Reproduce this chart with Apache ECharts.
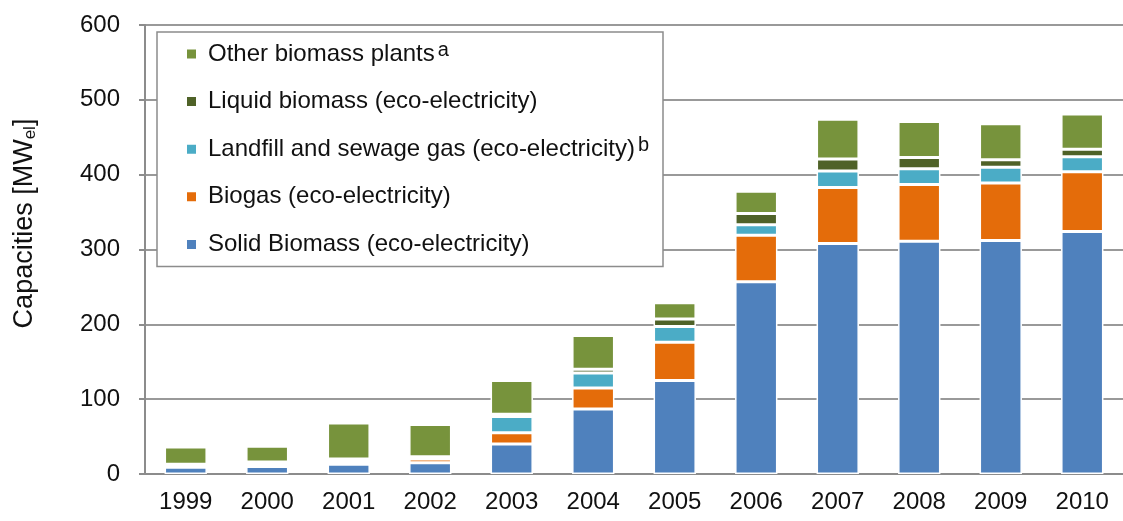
<!DOCTYPE html>
<html>
<head>
<meta charset="utf-8">
<script src="https://cdn.jsdelivr.net/npm/echarts@6/dist/echarts.min.js"></script>
<style>html,body{margin:0;padding:0;background:#fff}#c{width:1123px;height:521px}</style>
</head>
<body>
<div id="c"></div>
<script>
const years = ['1999','2000','2001','2002','2003','2004','2005','2006','2007','2008','2009','2010'];
const solidBiomass = [9, 10, 13, 15, 40, 87, 125, 257, 308, 311, 312, 324];
const biogas       = [2, 3, 4, 5, 15, 28, 51, 62, 75, 76, 77, 80];
const landfillGas  = [2, 3, 2, 2, 22, 20, 21, 14, 22, 21, 21, 20];
const liquidBiomass= [0, 0, 1, 1, 3, 5, 10, 15, 16, 15, 10, 10];
const otherBiomass = [23, 21, 48, 43, 45, 45, 22, 30, 53, 48, 48, 47];
const yTicks = [0, 100, 200, 300, 400, 500, 600];

const FONT = '"Liberation Sans Narrow", "Arial Narrow", "Liberation Sans", Arial, sans-serif';
const names = {
  solid: 'Solid Biomass (eco-electricity)',
  biogas: 'Biogas (eco-electricity)',
  landfill: 'Landfill and sewage gas (eco-electricity)',
  liquid: 'Liquid biomass (eco-electricity)',
  other: 'Other biomass plants'
};
const sups = {};
sups[names.other] = 'a';
sups[names.landfill] = 'b';

function mk(name, data, color) {
  return {
    name, type: 'bar', stack: 'total', data,
    barWidth: '52%',
    itemStyle: { color, borderColor: '#ffffff', borderWidth: 1.5 }
  };
}

const chart = echarts.init(document.getElementById('c'), null, { renderer: 'canvas' });
chart.setOption({
  animation: false,
  backgroundColor: '#fff',
  textStyle: { fontFamily: FONT },
  grid: { left: 145, top: 25, width: 990, bottom: 47, containLabel: false },
  legend: {
    orient: 'vertical',
    left: 157, top: 32,
    data: [names.other, names.liquid, names.landfill, names.biogas, names.solid],
    itemWidth: 11, itemHeight: 11, itemGap: 19.6,
    padding: [8, 14, 8, 28],
    backgroundColor: '#fff',
    borderColor: '#8c8c8c', borderWidth: 1.5,
    icon: 'rect',
    textStyle: {
      fontFamily: FONT, fontSize: 24, color: '#111', lineHeight: 28, padding: [0,0,0,6],
      rich: {
        t: { fontFamily: FONT, fontSize: 24, color: '#111', lineHeight: 28 },
        s: { fontFamily: FONT, fontSize: 20, color: '#111', lineHeight: 12, verticalAlign: 'top', padding: [0,0,0,3] }
      }
    },
    formatter: n => sups[n] ? '{t|' + n + '}{s|' + sups[n] + '}' : '{t|' + n + '}'
  },
  xAxis: {
    type: 'category', data: years,
    axisLine: { lineStyle: { color: '#8c8c8c', width: 2 } },
    axisTick: { show: false },
    axisLabel: { fontFamily: FONT, fontSize: 24, color: '#111', margin: 16 }
  },
  yAxis: {
    type: 'value', min: yTicks[0], max: yTicks[yTicks.length-1], interval: 100,
    name: '{n|Capacities [MW}{b|el}{n|]}',
    nameLocation: 'middle', nameGap: 106, nameRotate: 90,
    nameTextStyle: {
      padding: [0, 0, 0, 52],
      rich: {
        n: { fontFamily: FONT, fontSize: 27, color: '#111' },
        b: { fontFamily: FONT, fontSize: 17, color: '#111', padding: [12,0,0,0] }
      }
    },
    axisLine: { show: true, lineStyle: { color: '#8c8c8c', width: 2 } },
    axisTick: { show: true, inside: false, length: 6, lineStyle: { color: '#8c8c8c', width: 2 } },
    splitLine: { lineStyle: { color: '#999', width: 2 } },
    axisLabel: { fontFamily: FONT, fontSize: 24, color: '#111', margin: 25 }
  },
  series: [
    mk(names.solid, solidBiomass, '#4F81BD'),
    mk(names.biogas, biogas, '#E46C0A'),
    mk(names.landfill, landfillGas, '#4BACC6'),
    mk(names.liquid, liquidBiomass, '#4F6228'),
    mk(names.other, otherBiomass, '#77933C')
  ]
});
</script>
</body>
</html>
